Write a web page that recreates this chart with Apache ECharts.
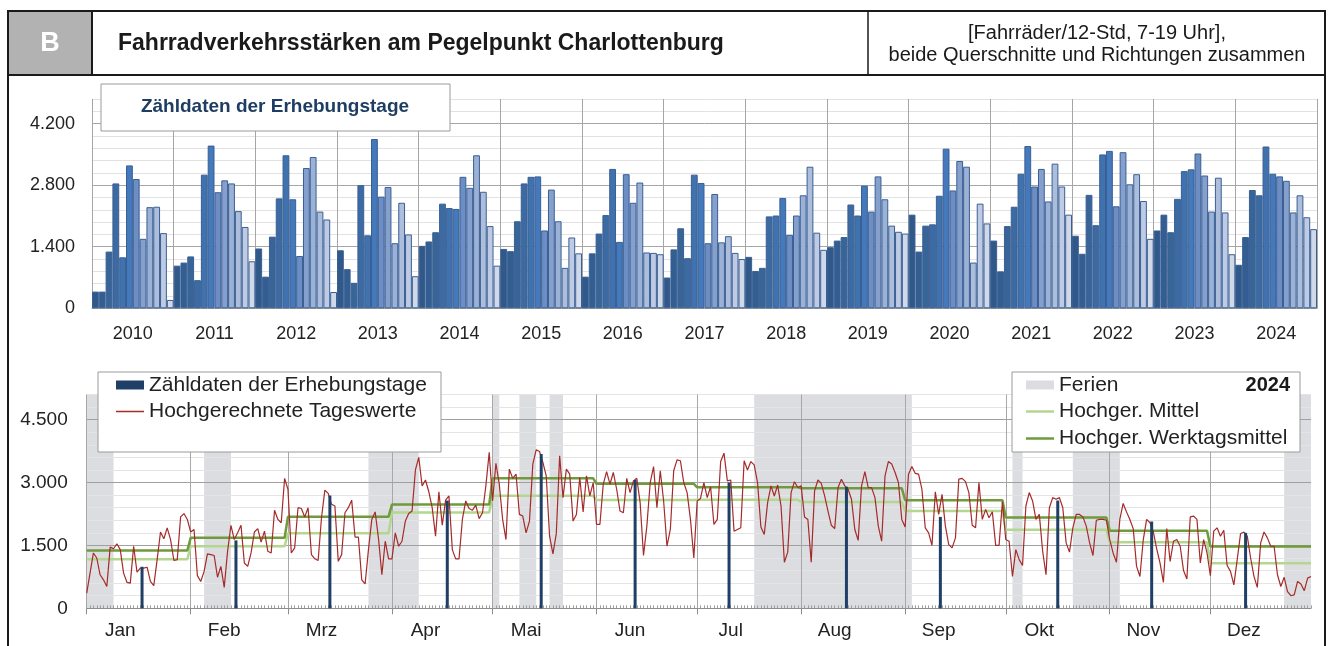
<!DOCTYPE html>
<html>
<head>
<meta charset="utf-8">
<script src="https://cdn.jsdelivr.net/npm/echarts@6/dist/echarts.min.js"></script>
<style>
html, body { margin: 0; padding: 0; background: #fff; }
#chart { width: 1333px; height: 646px; }
</style>
</head>
<body>
<div id="chart"></div>
<script>
// Obere Grafik: Zähldaten je Erhebungstag (ein Wert pro Monat), 2010-2024
const jahre = ['2010', '2011', '2012', '2013', '2014', '2015', '2016', '2017', '2018', '2019', '2020', '2021', '2022', '2023', '2024'];
const z2010 = [380, 380, 1290, 2840, 1160, 3250, 2940, 1580, 2300, 2310, 1710, 190];
const z2011 = [970, 1040, 1180, 640, 3040, 3700, 2640, 2910, 2840, 2210, 1850, 1070];
const z2012 = [1360, 720, 1630, 2500, 3480, 2480, 1190, 3190, 3440, 2200, 2020, 370];
const z2013 = [1320, 890, 580, 2800, 1660, 3850, 2540, 2760, 1480, 2400, 1680, 730];
const z2014 = [1420, 1520, 1730, 2380, 2280, 2260, 2990, 2740, 3480, 2650, 1870, 970];
const z2015 = [1350, 1300, 1980, 2840, 2990, 3000, 1770, 2700, 1980, 920, 1610, 1250];
const z2016 = [720, 1250, 1700, 2120, 3170, 1510, 3050, 2400, 2860, 1270, 1260, 1230];
const z2017 = [700, 1340, 1820, 1140, 3040, 2850, 1480, 2600, 1500, 1640, 1260, 1120];
const z2018 = [1170, 850, 920, 2090, 2110, 2510, 1670, 2110, 2570, 3220, 1720, 1330];
const z2019 = [1390, 1540, 1620, 2360, 2110, 2790, 2200, 3000, 2480, 1880, 1740, 1700];
const z2020 = [2130, 1290, 1880, 1910, 2560, 3630, 2680, 3350, 3220, 1040, 2380, 1930];
const z2021 = [1540, 840, 1870, 2310, 3060, 3690, 2770, 3170, 2430, 3290, 2770, 2130];
const z2022 = [1650, 1240, 2580, 1890, 3500, 3580, 2320, 3550, 2820, 3050, 2440, 1580];
const z2023 = [1770, 2130, 1730, 2490, 3120, 3160, 3520, 3020, 2200, 2970, 2180, 1230];
const z2024 = [990, 1620, 2690, 2570, 3680, 3060, 3000, 2900, 2180, 2570, 2070, 1800];

// Untere Grafik: hochgerechnete Tageswerte 2024, je Monat
const tJan = [360, 840, 1320, 1200, 800, 680, 520, 1460, 1420, 1540, 1400, 840, 620, 600, 1480, 860, 960, 960, 980, 640, 540, 1160, 1820, 1660, 1920, 1640, 1140, 1160, 2180, 2260, 2120];
const tFeb = [1820, 1880, 780, 640, 880, 1300, 1280, 1260, 740, 1000, 500, 1360, 1980, 1640, 1800, 1980, 1080, 1000, 1320, 1820, 1900, 1580, 1840, 1360, 1320, 2340, 2120, 2040, 3100];
const tMrz = [2840, 1320, 1440, 2400, 2380, 2180, 2400, 1280, 1180, 1140, 2160, 2820, 2740, 2480, 2440, 1120, 1280, 2280, 2400, 2580, 1700, 1700, 680, 580, 1400, 2120, 2300, 1660, 800, 1600, 1180];
const tApr = [1180, 1800, 1480, 1600, 2080, 2260, 2320, 3300, 3600, 2920, 3060, 2780, 2400, 1720, 2780, 1980, 2580, 2680, 1400, 1180, 1180, 2120, 2560, 2380, 2340, 2460, 2140, 2280, 2920, 3720];
const tMai = [2560, 3460, 2960, 2120, 1640, 3320, 3100, 3200, 2240, 2200, 1800, 2080, 3440, 3780, 3740, 3480, 3160, 1720, 1300, 1780, 3640, 2640, 3320, 3200, 2080, 2240, 3120, 2300, 3160, 2680, 3000];
const tJun = [2000, 2000, 2960, 3260, 2960, 3240, 2840, 2320, 2280, 3100, 2760, 3040, 3100, 2520, 1260, 1960, 3000, 3380, 2400, 3280, 2560, 1480, 1880, 3280, 3540, 3520, 3000, 2760, 2120, 1200];
const tJul = [2560, 2620, 3000, 2640, 2900, 2000, 2120, 3500, 3700, 3040, 3060, 1840, 1880, 1920, 3520, 3300, 3500, 3420, 3000, 1940, 1760, 2520, 2920, 2680, 2940, 2440, 1100, 1340, 2760, 3020, 2880];
const tAug = [2920, 2180, 2120, 1100, 2800, 3060, 2980, 2680, 2320, 1980, 1900, 2880, 3080, 2920, 2840, 2600, 1880, 1620, 2920, 3260, 2880, 2880, 2640, 1960, 1600, 3160, 3500, 3440, 3240, 3000, 2120];
const tSep = [1940, 3200, 3380, 3220, 3200, 2840, 1920, 1800, 1500, 2780, 2240, 2720, 1960, 1520, 1440, 1680, 3080, 3100, 3020, 2760, 1980, 1920, 3000, 2120, 2360, 2160, 2300, 1500, 1500, 2540];
const tOkt = [1640, 1600, 760, 1400, 1160, 1020, 2440, 2760, 2560, 2120, 2240, 1360, 800, 2400, 2640, 2600, 2640, 2400, 1560, 1340, 1920, 2240, 2240, 2180, 1960, 1560, 1260, 2100, 2120, 2120, 2100];
const tNov = [1640, 1320, 1100, 2120, 2500, 2300, 2120, 1900, 1000, 760, 1640, 2120, 2040, 1820, 1420, 1080, 620, 1900, 1120, 1600, 1640, 1480, 900, 700, 2180, 2200, 2120, 1080, 1640, 1320];
const tDez = [780, 1840, 1920, 1720, 1860, 1020, 880, 560, 1160, 1780, 1820, 1720, 1200, 760, 500, 1560, 1820, 1680, 1480, 1480, 800, 520, 740, 400, 300, 320, 640, 580, 420, 720, 760];

// Monatsmittel 2024
const mittel = [1170, 1480, 1790, 2285, 2685, 2585, 2590, 2535, 2320, 1875, 1575, 1075];
const werktagsmittel = [1380, 1680, 2185, 2475, 3100, 2970, 2885, 2865, 2580, 2165, 1850, 1475];

// Erhebungstage (Tag im Jahr, 0 = 1. Jan) und Ferien-/Feiertagsbereiche [von, bis)
const erhebungstage = [16, 44, 72, 107, 135, 163, 191, 226, 254, 289, 317, 345];
const ferien = [[0, 7], [35, 42], [84, 98], [121, 122], [129, 133], [138, 141], [199, 245], [276, 278], [294, 307], [357, 365]];

const monatsNamen = ['Jan', 'Feb', 'Mrz', 'Apr', 'Mai', 'Jun', 'Jul', 'Aug', 'Sep', 'Okt', 'Nov', 'Dez'];
const monatsAnfang = [0, 31, 60, 91, 121, 152, 182, 213, 244, 274, 305, 335];

const FONT = "'Liberation Sans', Arial, sans-serif";
const monatsFarben = ['#30598a', '#335e91', '#386598', '#3c6ba3', '#3f72ae', '#4479bb',
    '#6c8ec4', '#86a0cd', '#9cb1d6', '#adbedd', '#bfcbe4', '#d0d9ea'];

const monatsWerte = [z2010, z2011, z2012, z2013, z2014, z2015, z2016, z2017, z2018, z2019, z2020, z2021, z2022, z2023, z2024].flat();
const monatsKat = jahre.flatMap(j => monatsNamen.map(m => m + ' ' + j));
const tageswerte = [tJan, tFeb, tMrz, tApr, tMai, tJun, tJul, tAug, tSep, tOkt, tNov, tDez].flat();
const tage = tageswerte.map((v, i) => String(i));
const labelTage = monatsAnfang.map(a => a + 10);

function tausend(v) {
    const s = String(v);
    return s.length > 3 ? s.slice(0, -3) + '.' + s.slice(-3) : s;
}
// Monatsmittel als Stufe: Anfang und Ende jedes Monats
function stufen(werte) {
    const out = [];
    werte.forEach((v, m) => {
        const ende = (m < 11 ? monatsAnfang[m + 1] : 366) - 1;
        out.push([monatsAnfang[m], v], [ende, v]);
    });
    return out;
}
// eine Legendenzeile (eigene Komponente, damit jede Zeile ihre Symbolhöhe hat)
function zeile(name, left, mitte, hoehe) {
    return {
        data: [{ name: name, icon: 'rect' }],
        left: left, top: mitte - 10.5, padding: 0, selectedMode: false, z: 11,
        itemWidth: 28, itemHeight: hoehe,
        textStyle: { fontSize: 21, color: '#222', lineHeight: 21, fontFamily: FONT }
    };
}

const chart = echarts.init(document.getElementById('chart'));
chart.setOption({
    animation: false,
    textStyle: { fontFamily: FONT },
    grid: [
        { left: 92, right: 16, top: 99, height: 209.3, outerBoundsMode: 'none' },
        { left: 86.7, right: 22, top: 394.5, height: 213.8, outerBoundsMode: 'none' }
    ],
    xAxis: [
        {   // Tage: Monatsstriche und -namen
            type: 'category', gridIndex: 1, position: 'bottom', data: tage, boundaryGap: false, z: 2,
            axisLine: { show: true, lineStyle: { color: '#8c8c8c' } },
            axisTick: { show: true, length: 6, interval: i => monatsAnfang.includes(i), lineStyle: { color: '#8c8c8c' } },
            splitLine: { show: true, interval: i => monatsAnfang.includes(i), lineStyle: { color: '#a8a8a8' } },
            axisLabel: {
                interval: i => labelTage.includes(i), margin: 13, fontSize: 19, color: '#222',
                formatter: v => monatsNamen[labelTage.indexOf(Number(v))]
            }
        },
        {   // Tagesstriche
            type: 'category', gridIndex: 1, position: 'bottom', data: tage, boundaryGap: false, z: 2,
            axisLine: { show: false },
            axisTick: { show: true, inside: true, length: 3, interval: 0, lineStyle: { color: '#a0a0a0' } },
            axisLabel: { show: false }, splitLine: { show: false }
        },
        {   // Erhebungstage (Tagesmitte)
            type: 'value', gridIndex: 1, position: 'bottom', min: 0, max: 365, show: false, splitLine: { show: false }
        },
        {   // obere Grafik: Monate
            type: 'category', gridIndex: 0, position: 'bottom', data: monatsKat,
            axisLine: { show: true, lineStyle: { color: '#9a9a9a' } },
            axisTick: { show: false }, axisLabel: { show: false }, splitLine: { show: false }
        },
        {   // obere Grafik: Jahre
            type: 'category', gridIndex: 0, position: 'bottom', data: jahre,
            axisLine: { show: false }, axisTick: { show: false },
            splitLine: { show: true, lineStyle: { color: '#a6a6a6' } },
            axisLabel: { fontSize: 18, color: '#222', margin: 17 }
        }
    ],
    yAxis: [
        {
            type: 'value', gridIndex: 0, min: 0, max: 4760, interval: 280,
            axisLine: { show: false }, axisTick: { show: false },
            splitLine: { lineStyle: { color: ['#a6a6a6', '#e2e2e2', '#e2e2e2', '#e2e2e2', '#e2e2e2'] } },
            axisLabel: { fontSize: 18, color: '#222', margin: 17, formatter: v => v % 1400 === 0 ? tausend(v) : '' }
        },
        {
            type: 'value', gridIndex: 1, min: 0, max: 5100, interval: 300, z: 2,
            axisLine: { show: false }, axisTick: { show: false },
            splitLine: { lineStyle: { color: ['#a0a0a0', '#e4e4e4', '#e4e4e4', '#e4e4e4', '#e4e4e4'] } },
            axisLabel: { fontSize: 19, color: '#222', margin: 19, formatter: v => v % 1500 === 0 ? tausend(v) : '' }
        }
    ],
    legend: [
        zeile('Zähldaten der Erhebungstage', 116, 385, 9),
        zeile('Hochgerechnete Tageswerte', 116, 411.5, 1.5),
        zeile('Ferien', 1026, 385, 9),
        zeile('Hochger. Mittel', 1026, 411.5, 2.5),
        zeile('Hochger. Werktagsmittel', 1026, 438.5, 2.5)
    ],
    series: [
        {
            name: 'Monatswerte', type: 'bar', xAxisIndex: 3, yAxisIndex: 0,
            data: monatsWerte, barCategoryGap: '0%',
            itemStyle: {
                color: p => monatsFarben[p.dataIndex % 12],
                borderColor: '#3a5f93', borderWidth: 1
            }
        },
        {
            name: 'Ferien', type: 'bar', xAxisIndex: 1, yAxisIndex: 1, data: [],
            itemStyle: { color: '#dcdde0' },
            markArea: {
                silent: true, z: 1,
                itemStyle: { color: '#dcdde0' },
                data: ferien.map(f => [{ xAxis: f[0] }, { xAxis: f[1] }])
            }
        },
        {
            name: 'Hochger. Mittel', type: 'line', xAxisIndex: 0, yAxisIndex: 1, z: 4,
            data: stufen(mittel), symbol: 'none',
            lineStyle: { color: '#b3d78f', width: 2.5 }, itemStyle: { color: '#b3d78f' }
        },
        {
            name: 'Hochger. Werktagsmittel', type: 'line', xAxisIndex: 0, yAxisIndex: 1, z: 4,
            data: stufen(werktagsmittel), symbol: 'none',
            lineStyle: { color: '#6f9b3c', width: 2.5 }, itemStyle: { color: '#6f9b3c' }
        },
        {
            name: 'Hochgerechnete Tageswerte', type: 'line', xAxisIndex: 0, yAxisIndex: 1, z: 5,
            data: tageswerte, symbol: 'none',
            lineStyle: { color: '#a52a2a', width: 1.2 }, itemStyle: { color: '#a52a2a' }
        },
        {
            name: 'Zähldaten der Erhebungstage', type: 'bar', xAxisIndex: 2, yAxisIndex: 1, z: 6,
            data: erhebungstage.map((d, i) => [d + 0.5, z2024[i]]),
            barWidth: 3, itemStyle: { color: '#1f3f66' }
        }
    ],
    graphic: [
        // Rahmen und Kopfzeile
        { type: 'rect', z: 10, shape: { x: 9, y: 12, width: 83, height: 63 }, style: { fill: '#b2b2b2' } },
        { type: 'rect', z: 10, shape: { x: 8, y: 11, width: 1317, height: 660 }, style: { fill: 'none', stroke: '#1a1a1a', lineWidth: 2 } },
        { type: 'line', z: 10, shape: { x1: 8, y1: 75, x2: 1325, y2: 75 }, style: { stroke: '#1a1a1a', lineWidth: 2 } },
        { type: 'line', z: 10, shape: { x1: 92, y1: 11, x2: 92, y2: 75 }, style: { stroke: '#1a1a1a', lineWidth: 2 } },
        { type: 'line', z: 10, shape: { x1: 868, y1: 11, x2: 868, y2: 75 }, style: { stroke: '#1a1a1a', lineWidth: 1.5 } },
        { type: 'text', z: 12, x: 50, y: 44, style: { text: 'B', fill: '#fff', font: 'bold 27px ' + FONT, align: 'center', verticalAlign: 'middle' } },
        { type: 'text', z: 12, x: 118, y: 44, style: { text: 'Fahrradverkehrsstärken am Pegelpunkt Charlottenburg', fill: '#1a1a1a', font: 'bold 23px ' + FONT, verticalAlign: 'middle' } },
        { type: 'text', z: 12, x: 1097, y: 33, style: { text: '[Fahrräder/12-Std, 7-19 Uhr],', fill: '#1a1a1a', font: '20px ' + FONT, align: 'center', verticalAlign: 'middle' } },
        { type: 'text', z: 12, x: 1097, y: 55, style: { text: 'beide Querschnitte und Richtungen zusammen', fill: '#1a1a1a', font: '20px ' + FONT, align: 'center', verticalAlign: 'middle' } },
        // Kasten obere Grafik
        { type: 'rect', z: 10, shape: { x: 101, y: 84, width: 349, height: 47 }, style: { fill: '#fff', stroke: '#9a9a9a', lineWidth: 1 } },
        { type: 'text', z: 12, x: 275, y: 107, style: { text: 'Zähldaten der Erhebungstage', fill: '#1f3d63', font: 'bold 19px ' + FONT, align: 'center', verticalAlign: 'middle' } },
        // Legendenkästen untere Grafik
        { type: 'rect', z: 10, shape: { x: 98, y: 372, width: 343, height: 80 }, style: { fill: '#fff', stroke: '#9a9a9a', lineWidth: 1 } },
        { type: 'rect', z: 10, shape: { x: 1012, y: 372, width: 288, height: 80 }, style: { fill: '#fff', stroke: '#9a9a9a', lineWidth: 1 } },
        { type: 'text', z: 12, x: 1290, y: 385, style: { text: '2024', fill: '#1a1a1a', font: 'bold 20px ' + FONT, align: 'right', verticalAlign: 'middle' } }
    ]
});
</script>
</body>
</html>
